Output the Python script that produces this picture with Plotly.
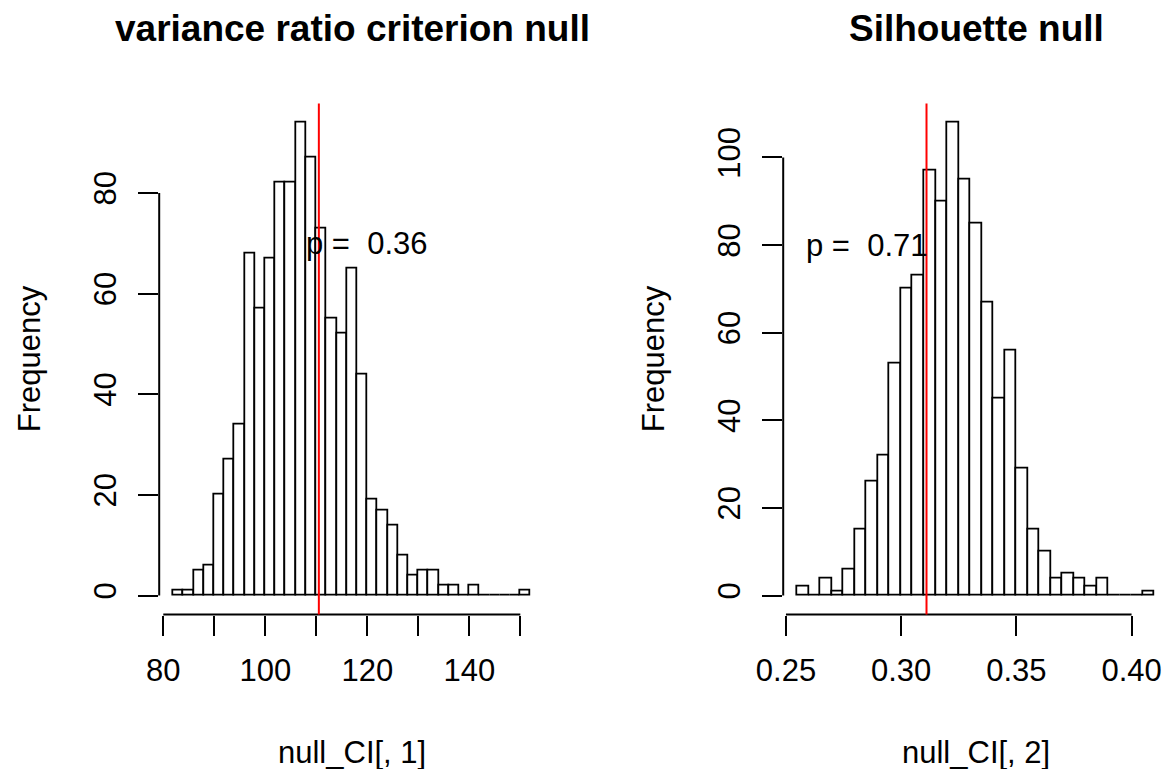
import numpy as np
import plotly.graph_objects as go

W, H = 1168, 769

# ---- data ----
vrc_break_start = 82
vrc_bin_width = 2
vrc_counts = [1, 1, 5, 6, 20, 27, 34, 68, 57, 67, 82, 82, 94, 87, 73, 55, 52, 65, 44,
              19, 17, 14, 8, 4, 5, 5, 2, 2, 0, 2, 0, 0, 0, 0, 1]
vrc_observed = 110.5
vrc_p_text = "p =\u00a0 0.36"
vrc_p_pos = (120, 70)
vrc_xticks = [80, 90, 100, 110, 120, 130, 140, 150]
vrc_xlabels = ["80", "", "100", "", "120", "", "140", ""]
vrc_yticks = [0, 20, 40, 60, 80]

sil_break_start = 0.255
sil_bin_width = 0.005
sil_counts = [2, 0, 4, 1, 6, 15, 26, 32, 53, 70, 73, 97, 90, 108, 95, 85, 67, 45, 56,
              29, 15, 10, 4, 5, 4, 2, 4, 0, 0, 0, 1]
sil_observed = 0.311
sil_p_text = "p =\u00a0 0.71"
sil_p_pos = (0.285, 80)
sil_xticks = [0.25, 0.30, 0.35, 0.40]
sil_xlabels = ["0.25", "0.30", "0.35", "0.40"]
sil_yticks = [0, 20, 40, 60, 80, 100]

titles = ["variance ratio criterion null", "Silhouette null"]
xtitles = ["null_CI[, 1]", "null_CI[, 2]"]
ytitle = "Frequency"

FONT = "Liberation Sans, Arial, Helvetica, sans-serif"
FS = 31


def px(x):
    return x / W


def py(y):
    return 1 - y / H


def rng(lo, hi):
    d = (hi - lo) * 0.04
    return [lo - d, hi + d]


fig = go.Figure()

panels = [
    dict(start=vrc_break_start, bw=vrc_bin_width, counts=vrc_counts, obs=vrc_observed,
         ptext=vrc_p_text, ppos=vrc_p_pos, xt=vrc_xticks, xl=vrc_xlabels, yt=vrc_yticks,
         left=159.2, right=544.8, xa="x", ya="y"),
    dict(start=sil_break_start, bw=sil_bin_width, counts=sil_counts, obs=sil_observed,
         ptext=sil_p_text, ppos=sil_p_pos, xt=sil_xticks, xl=sil_xlabels, yt=sil_yticks,
         left=783.2, right=1168.9, xa="x2", ya="y2"),
]

top_px, bot_px = 103.5, 614.5
shapes = []
annotations = []
for i, p in enumerate(panels):
    n = len(p["counts"])
    edges = p["start"] + p["bw"] * np.arange(n + 1)
    centers = (edges[:-1] + edges[1:]) / 2
    fig.add_trace(go.Bar(
        x=centers, y=p["counts"], width=p["bw"],
        marker=dict(color="white", line=dict(color="black", width=1.8)),
        xaxis=p["xa"], yaxis=p["ya"], showlegend=False, hoverinfo="x+y",
    ))
    xr = rng(edges[0], edges[-1])
    # plot area is cut at the image edge for the right panel
    right_px = min(p["right"], W)
    span = (xr[1] - xr[0]) * (right_px - p["left"]) / (p["right"] - p["left"])
    xr = [xr[0], xr[0] + span]
    yr = rng(0, max(p["counts"]))
    sfx = "" if i == 0 else str(i + 1)
    fig.update_layout(**{
        "xaxis" + sfx: dict(
            domain=[px(p["left"]), px(right_px)], range=xr, anchor=p["ya"],
            showgrid=False, zeroline=False, showline=False, automargin=False,
            ticks="outside", ticklen=20, tickwidth=2, tickcolor="black",
            tickvals=p["xt"], ticktext=p["xl"], ticklabelstandoff=8,
            tickfont=dict(family=FONT, size=FS, color="black"),
        ),
        "yaxis" + sfx: dict(
            domain=[py(bot_px), py(top_px)], range=yr, anchor=p["xa"],
            showgrid=False, zeroline=False, showline=False, automargin=False,
            ticks="outside", ticklen=20, tickwidth=2, tickcolor="black",
            tickvals=p["yt"], ticktext=[str(v) for v in p["yt"]], tickangle=-90,
            ticklabelstandoff=10,
            tickfont=dict(family=FONT, size=FS, color="black"),
        ),
    })
    xref = p["xa"]
    yref = p["ya"]
    # R-style axis lines spanning the tick range only
    shapes.append(dict(type="line", xref=xref, yref="paper", x0=p["xt"][0], x1=p["xt"][-1],
                       y0=py(bot_px), y1=py(bot_px), line=dict(color="black", width=2)))
    shapes.append(dict(type="line", xref="paper", yref=yref, x0=px(p["left"]), x1=px(p["left"]),
                       y0=p["yt"][0], y1=p["yt"][-1], line=dict(color="black", width=2)))
    # observed value line
    shapes.append(dict(type="line", xref=xref, yref="paper", x0=p["obs"], x1=p["obs"],
                       y0=py(bot_px), y1=py(top_px), line=dict(color="red", width=2)))
    # p-value text
    annotations.append(dict(x=p["ppos"][0], y=p["ppos"][1], xref=xref, yref=yref,
                            text=p["ptext"], showarrow=False, xanchor="center", yanchor="middle",
                            font=dict(family=FONT, size=FS, color="black")))
    cx = (p["left"] + p["right"]) / 2
    annotations.append(dict(x=px(cx), y=py(28), xref="paper", yref="paper", text="<b>" + titles[i] + "</b>",
                            showarrow=False, xanchor="center", yanchor="middle",
                            font=dict(family=FONT, size=37, color="black")))
    annotations.append(dict(x=px(cx), y=py(765), xref="paper", yref="paper", text=xtitles[i],
                            showarrow=False, xanchor="center", yanchor="bottom", yshift=-7,
                            font=dict(family=FONT, size=FS, color="black")))
    annotations.append(dict(x=px(p["left"] - 129), y=py((top_px + bot_px) / 2), xref="paper", yref="paper",
                            text=ytitle, textangle=-90, showarrow=False, xanchor="center", yanchor="middle",
                            font=dict(family=FONT, size=FS, color="black")))

fig.update_layout(
    width=W, height=H, margin=dict(l=0, r=0, t=0, b=0),
    paper_bgcolor="white", plot_bgcolor="white",
    bargap=0, shapes=shapes, annotations=annotations,
)

fig.write_html("out.html")
